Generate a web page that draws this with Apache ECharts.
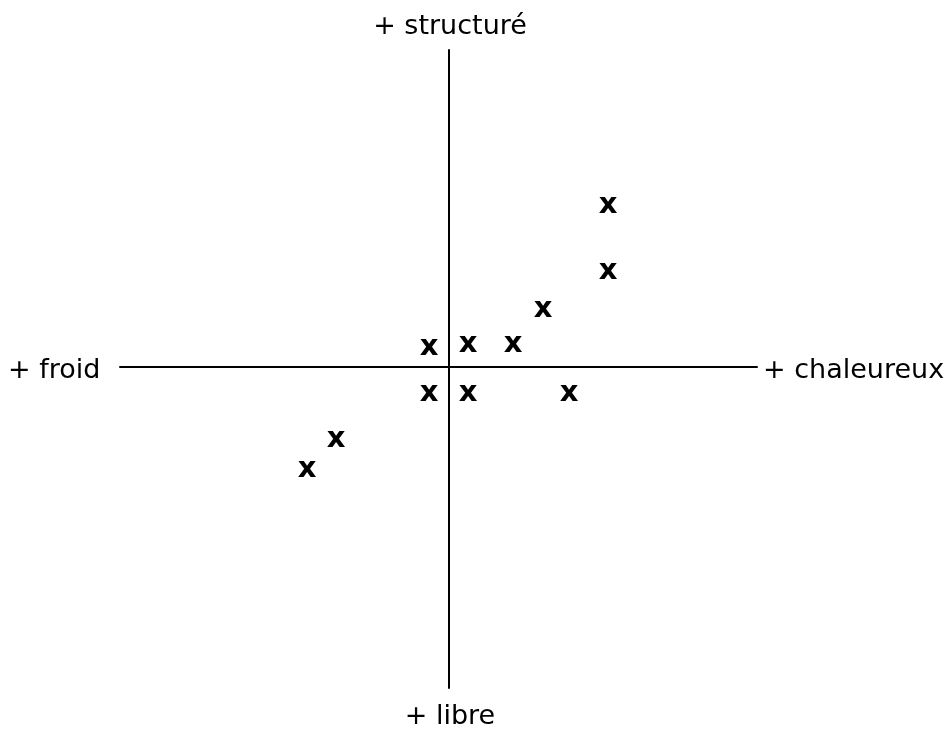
<!DOCTYPE html>
<html>
<head>
<meta charset="utf-8">
<style>
  html, body { margin: 0; padding: 0; background: #fff; }
  #container { width: 951px; height: 729px; }
</style>
<script src="https://cdn.jsdelivr.net/npm/echarts@6/dist/echarts.min.js"></script>
</head>
<body>
<div id="container"></div>
<script>
// positions on the map: x = froid (-) / chaleureux (+), y = libre (-) / structuré (+)
var xValues = [159, 159, 94, -20, 19, 64, -20, 19, 120, -113, -142];
var yValues = [164, 98, 60, 22, 25, 25, -24, -24, -24, -70, -100];

var axisLabels = {
  top: '+ structuré',
  bottom: '+ libre',
  left: '+ froid',
  right: '+ chaleureux'
};

var points = xValues.map(function (x, i) { return [x, yValues[i]]; });

var dom = document.getElementById('container');
var myChart = echarts.init(dom, null, { renderer: 'canvas' });

var labelFont = '27px "DejaVu Sans", sans-serif';

var option = {
  animation: false,
  grid: { left: 120, right: 194, top: 50, bottom: 41 },
  xAxis: {
    type: 'value',
    min: -329,
    max: 308,
    splitLine: { show: false },
    axisTick: { show: false },
    axisLabel: { show: false },
    axisLine: { onZero: true, lineStyle: { color: '#000', width: 2 } }
  },
  yAxis: {
    type: 'value',
    min: -321,
    max: 317,
    splitLine: { show: false },
    axisTick: { show: false },
    axisLabel: { show: false },
    axisLine: { onZero: true, lineStyle: { color: '#000', width: 2 } }
  },
  graphic: [
    { type: 'text', x: 450, y: 27, style: { text: axisLabels.top, font: labelFont, fill: '#000', textAlign: 'center', textVerticalAlign: 'middle' } },
    { type: 'text', x: 450, y: 717, style: { text: axisLabels.bottom, font: labelFont, fill: '#000', textAlign: 'center', textVerticalAlign: 'middle' } },
    { type: 'text', x: 8, y: 371, style: { text: axisLabels.left, font: labelFont, fill: '#000', textAlign: 'left', textVerticalAlign: 'middle' } },
    { type: 'text', x: 763, y: 371, style: { text: axisLabels.right, font: labelFont, fill: '#000', textAlign: 'left', textVerticalAlign: 'middle' } }
  ],
  series: [
    {
      type: 'scatter',
      data: points,
      symbolSize: 0,
      itemStyle: { color: '#000', opacity: 1 },
      label: {
        show: true,
        position: 'top',
        distance: 0,
        align: 'center',
        verticalAlign: 'middle',
        formatter: 'x',
        color: '#000',
        fontSize: 29,
        fontWeight: 'bold',
        fontFamily: '"DejaVu Sans", sans-serif',
        offset: [0, 2]
      }
    }
  ]
};

myChart.setOption(option);
window.addEventListener('resize', myChart.resize);
</script>
</body>
</html>
